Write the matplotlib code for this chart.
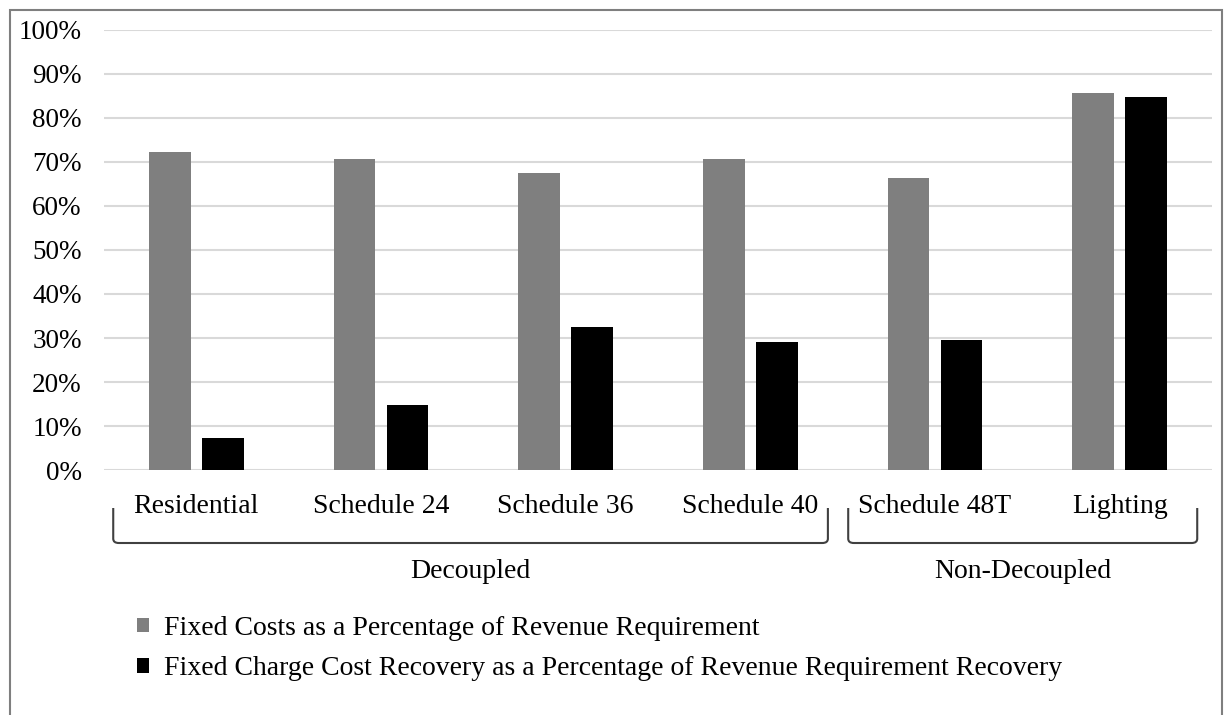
import matplotlib.pyplot as plt
import numpy as np
from matplotlib.path import Path
from matplotlib.patches import PathPatch, Rectangle, Patch
from matplotlib.transforms import blended_transform_factory

categories = ['Residential', 'Schedule 24', 'Schedule 36', 'Schedule 40', 'Schedule 48T', 'Lighting']
fixed_costs = [72.3, 70.7, 67.5, 70.7, 66.4, 85.6]
fixed_charge = [7.3, 14.8, 32.5, 29.1, 29.5, 84.8]
series_names = ['Fixed Costs as a Percentage of Revenue Requirement',
                'Fixed Charge Cost Recovery as a Percentage of Revenue Requirement Recovery']
groups = ['Decoupled', 'Non-Decoupled']
group_spans = [(-0.45, 3.42), (3.53, 5.42)]

plt.rcParams['font.family'] = ['Liberation Serif', 'DejaVu Serif']
fs = 20

W, H = 1225, 715
fig = plt.figure(figsize=(W / 100, H / 100), dpi=100)
ax = fig.add_axes([104 / W, (H - 470) / H, (1212 - 104) / W, 440 / H])

x = np.arange(len(categories))
bw = 0.227
off = 0.1435
ax.bar(x - off, fixed_costs, bw, color='#7f7f7f', zorder=3)
ax.bar(x + off, fixed_charge, bw, color='#000000', zorder=3)

ax.set_xlim(-0.5, len(categories) - 0.5)
ax.set_ylim(0, 100)
ax.set_yticks(np.arange(0, 101, 10))
ax.set_yticklabels([f'{v}%' for v in range(0, 101, 10)], fontsize=19.5)
ax.set_xticks(x)
ax.set_xticklabels(categories, fontsize=fs)
ax.tick_params(axis='both', length=0)
ax.tick_params(axis='y', pad=16)
ax.tick_params(axis='x', pad=17.5)
ax.grid(axis='y', color='#d9d9d9', linewidth=1.5, zorder=0)
for s in ax.spines.values():
    s.set_visible(False)

# brackets under the category labels
tr = blended_transform_factory(ax.transData, fig.transFigure)
y_top = (H - 508) / H
y_bot = (H - 543) / H
rx, ry = 0.03, 0.006
for (x0, x1), name in zip(group_spans, groups):
    verts = [(x0, y_top), (x0, y_bot + ry), (x0, y_bot), (x0 + rx, y_bot),
             (x1 - rx, y_bot), (x1, y_bot), (x1, y_bot + ry), (x1, y_top)]
    codes = [Path.MOVETO, Path.LINETO, Path.CURVE3, Path.CURVE3,
             Path.LINETO, Path.CURVE3, Path.CURVE3, Path.LINETO]
    fig.add_artist(PathPatch(Path(verts, codes), transform=tr, fill=False,
                             edgecolor='#404040', linewidth=1.5))
    fig.text((x0 + x1) / 2, (H - 571) / H, name, transform=tr,
             ha='center', va='center', fontsize=fs)

handles = [Patch(facecolor='#7f7f7f'), Patch(facecolor='#000000')]
fig.legend(handles, series_names, loc='upper left', bbox_to_anchor=(126 / W, (H - 605) / H),
           frameon=False, fontsize=fs, handlelength=0.42, handleheight=0.42,
           handletextpad=0.55, labelspacing=0.55, borderaxespad=0)

# outer frame
fig.add_artist(Rectangle((10 / W, -0.05), (1222 - 10) / W, (H - 10) / H + 0.05,
                         transform=fig.transFigure, fill=False,
                         edgecolor='#7f7f7f', linewidth=1.5))

fig.savefig('out.png', dpi=100)
